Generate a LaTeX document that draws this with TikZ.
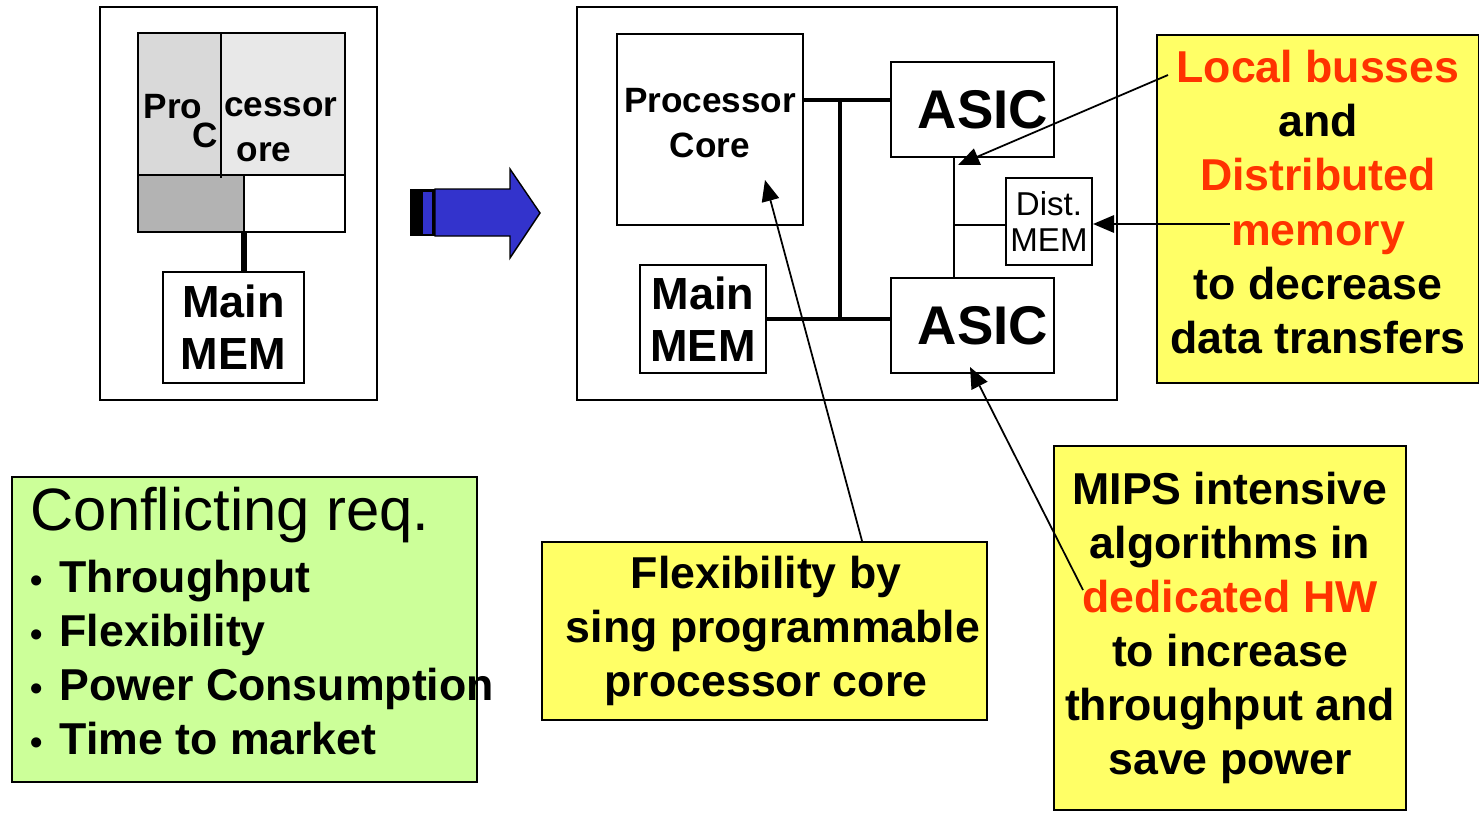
\documentclass[tikz,border=0pt]{standalone}
\usepackage{fontspec}
\setmainfont{Liberation Sans}
\usetikzlibrary{arrows.meta}
\definecolor{noteyellow}{HTML}{FFFF66}
\definecolor{reqgreen}{HTML}{CCFF99}
\definecolor{hwred}{HTML}{FF3300}
\definecolor{arrowblue}{HTML}{3333CC}
\definecolor{coreleft}{HTML}{D9D9D9}
\definecolor{coreright}{HTML}{E8E8E8}
\definecolor{corelow}{HTML}{B3B3B3}

\begin{document}
\begin{tikzpicture}[x=0.01cm, y=-0.01cm,
    box/.style={draw, line width=0.6pt, fill=white, inner sep=0pt, align=center},
    note/.style={draw, line width=0.6pt, fill=noteyellow, inner sep=0pt, align=center,
      font=\fontsize{12.7}{15.4}\selectfont\bfseries},
    memfont/.style={font=\fontsize{12.8}{14.8}\selectfont\bfseries},
    bus/.style={line width=1.2pt},
    wire/.style={line width=0.5pt},
    pointer/.style={line width=0.5pt, -{Triangle[length=6pt,width=5pt]}}]
  % keep the page as large as the slide
  \useasboundingbox (0,0) rectangle (1479,815);

  % frame of the single processor system
  \draw[line width=0.6pt] (100,7) rectangle (377,400);
  % fill the four parts of the processor core
  \fill[coreleft] (138,33) rectangle (221,175);
  \fill[coreright] (221,33) rectangle (345,175);
  \fill[corelow] (138,175) rectangle (244,232);
  % outline and split lines of the core
  \draw[line width=0.6pt] (138,33) rectangle (345,232);
  \draw[line width=0.6pt] (138,175) -- (345,175);
  \draw[line width=0.6pt] (221,33) -- (221,178);
  \draw[line width=0.6pt] (244,175) -- (244,232);
  % split label of the core
  \begin{scope}[font=\fontsize{10}{12}\selectfont\bfseries, inner sep=0pt]
    \node (pro) at (173,107) {Pro};
    \node (c) at (205,135) {C};
    \node (cessor) at (281,107) {cessor};
    \node (ore) at (264,152) {ore};
  \end{scope}
  % main memory of the single processor system
  \node[box, memfont, minimum width=1.41cm, minimum height=1.11cm] (mem1) at (233.5,327.5) {Main\\MEM};
  \coordinate (pcport) at (244,232);
  \draw[line width=1.7pt] (pcport) -- (pcport |- mem1.north);

  % block arrow between the two systems
  \fill[black] (410,189) rectangle (435,236);
  \fill[arrowblue] (423,192) rectangle (432,234);
  \filldraw[fill=arrowblue, draw=black, line width=0.4pt]
    (435,189) -- (510,189) -- (510,169) -- (540,213) -- (510,258) -- (510,236) -- (435,236) -- cycle;

  % frame of the heterogeneous system
  \draw[line width=0.6pt] (577,7) rectangle (1117,400);
  % blocks of the heterogeneous system
  \node[box, minimum width=1.86cm, minimum height=1.91cm] (proc) at (710,129.5) {};
  \node[align=center, inner sep=0pt, font=\fontsize{10}{12.8}\selectfont\bfseries] (proctext) at (710,123.5) {Processor\\Core};
  \node[box, memfont, minimum width=1.26cm, minimum height=1.08cm] (mem2) at (703,319) {Main\\MEM};
  \node[box, font=\fontsize{15.5}{18}\selectfont\bfseries, minimum width=1.63cm, minimum height=0.95cm] (asic1) at (972.5,109.5) {\hspace{6pt}ASIC};
  \node[box, font=\fontsize{15.5}{18}\selectfont\bfseries, minimum width=1.63cm, minimum height=0.95cm] (asic2) at (972.5,325.5) {\hspace{6pt}ASIC};
  \node[box, font=\fontsize{9.4}{10.5}\selectfont, minimum width=0.86cm, minimum height=0.87cm] (dist) at (1049,221.5) {Dist.\\MEM};

  % system bus
  \coordinate (bustop) at (840,100);
  \coordinate (busbot) at (840,319);
  \draw[bus] (proc.east |- bustop) -- (asic1.west |- bustop);
  \draw[bus] (mem2.east) -- (asic2.west |- busbot);
  \draw[bus] (bustop) -- (busbot);
  % local bus with distributed memory
  \coordinate (localbus) at (954,225);
  \draw[wire] (asic1.south -| localbus) -- (asic2.north -| localbus);
  \draw[wire] (localbus) -- (dist.west |- localbus);

  % note boxes
  \node[note, minimum width=3.22cm, minimum height=3.48cm] (local) at (1318,209) {};
  \node[note, draw=none, fill=none] (localtext) at (1318,202)
    {\textcolor{hwred}{Local busses}\\and\\\textcolor{hwred}{Distributed}\\\textcolor{hwred}{memory}\\to decrease\\data transfers};
  \node[note, minimum width=4.45cm, minimum height=1.78cm] (flex) at (764.5,631) {};
  \node[note, draw=none, fill=none] (flextext) at (766,631)
    {Flexibility by\\\hspace{4pt}sing programmable\\processor core};
  \node[note, minimum width=3.52cm, minimum height=3.64cm] (mips) at (1230,628)
    {MIPS intensive\\algorithms in\\\textcolor{hwred}{dedicated HW}\\to increase\\throughput and\\save power};

  % box of conflicting requirements
  \node[box, fill=reqgreen, minimum width=4.65cm, minimum height=3.05cm] (req) at (244.5,629.5) {};
  \node[anchor=west, inner sep=0pt, font=\fontsize{17}{20}\selectfont] (reqtitle) at (30,515) {Conflicting req.};
  % bullet list of requirements
  \foreach \txt/\y [count=\i] in {Throughput/592, Flexibility/646, Power Consumption/700, Time to market/754}{
    \node[anchor=base, inner sep=0pt, font=\fontsize{10}{12}\selectfont\bfseries] (dot\i) at (37,\y) {\textbullet};
    \node[anchor=base west, inner sep=0pt, font=\fontsize{12.7}{15}\selectfont\bfseries] (item\i) at (59,\y) {\txt};
  }

  % pointers from the notes to the blocks
  \coordinate (lbtip) at (958,165);
  \coordinate (lbtail) at (1168,75);
  \draw[pointer] (lbtail) -- (lbtip);
  \coordinate (dmtail) at (1230,224);
  \draw[pointer] (dmtail) -- (dist.east |- dmtail);
  \coordinate (pctip) at (765,180);
  \draw[pointer] ([xshift=3.21cm]flex.north west) -- (pctip);
  \coordinate (hwtip) at (970,367);
  \coordinate (hwtail) at (1083,590);
  \draw[pointer] (hwtail) -- (hwtip);
\end{tikzpicture}
\end{document}
